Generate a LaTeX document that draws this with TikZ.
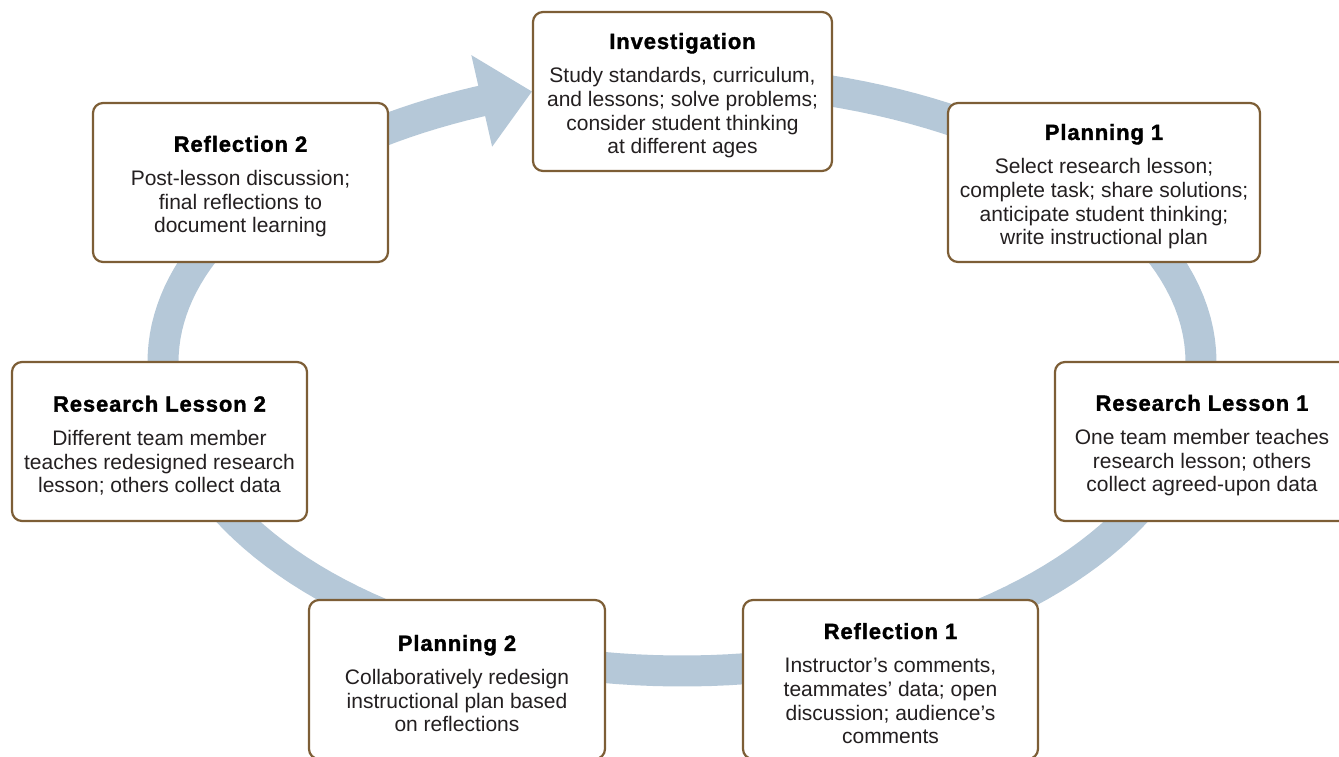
\documentclass[tikz,border=0pt]{standalone}
\usepackage{fontspec}
\setmainfont{Liberation Sans}
\newfontfamily\titlefont{Liberation Sans}[LetterSpace=4, BoldFeatures={FakeBold=1.5}]
\usetikzlibrary{backgrounds,calc}
\definecolor{ringblue}{RGB}{181,200,216}
\definecolor{framebrown}{RGB}{125,94,54}
\definecolor{inkgray}{RGB}{35,31,32}
\newcommand{\stagetitle}[1]{{\rule{0pt}{24pt}\titlefont\bfseries\fontsize{22}{23.7}\selectfont\color{black}#1}\\[10pt]}
\tikzset{
  stage/.style={draw=framebrown, line width=2.2pt, rounded corners=10pt, fill=white,
    align=center, inner sep=0pt, minimum height=159pt, text=inkgray,
    font=\fontsize{21}{23.7}\selectfont},
  band/.style={draw=ringblue, line width=31pt, line join=round},
}
\begin{document}
\begin{tikzpicture}[x=1pt,y=-1pt]
\useasboundingbox (0,0) rectangle (1339,756);
\clip (0,0) rectangle (1339,756);

\node[stage, minimum width=299pt] (inv) at (682.5,91.5)
  {\stagetitle{Investigation}Study standards, curriculum,\\and lessons; solve problems;\\consider student thinking\\at different ages};
\node[stage, minimum width=312pt] (p1) at (1104,182.5)
  {\stagetitle{Planning 1}Select research lesson;\\complete task; share solutions;\\anticipate student thinking;\\write instructional plan};
\node[stage, minimum width=294pt] (rl1) at (1202,441.5)
  {\stagetitle{Research Lesson 1}One team member teaches\\research lesson; others\\collect agreed-upon data};
\node[stage, minimum width=295pt] (r1) at (890.5,679.5)
  {\stagetitle{Reflection 1}Instructor’s comments,\\teammates’ data; open\\discussion; audience’s\\comments};
\node[stage, minimum width=296pt] (p2) at (457,679.5)
  {\stagetitle{Planning 2}Collaboratively redesign\\instructional plan based\\on reflections};
\node[stage, minimum width=295pt] (rl2) at (159.5,441.5)
  {\stagetitle{Research Lesson 2}Different team member\\teaches redesigned research\\lesson; others collect data};
\node[stage, minimum width=295pt] (r2) at (240.5,182.5)
  {\stagetitle{Reflection 2}Post-lesson discussion;\\final reflections to\\document learning};

\begin{scope}[on background layer]
  \coordinate (ab) at ({682+519*cos(112.7)},{362-283*sin(112.7)});
  \draw[band]
    plot[domain=80:0, samples=40] ({682+519*cos(\x)},{362-283*sin(\x)})
    -- plot[domain=0:-180, samples=90] ({682+519*cos(\x)},{362-309*sin(\x)})
    -- plot[domain=180:111.5, samples=40] ({682+519*cos(\x)},{362-283*sin(\x)});
  \fill[ringblue] (inv.west) -- ($(ab)+(-10.4,-45.8)$) -- ($(ab)+(10.4,45.8)$) -- cycle;
\end{scope}
\end{tikzpicture}
\end{document}
